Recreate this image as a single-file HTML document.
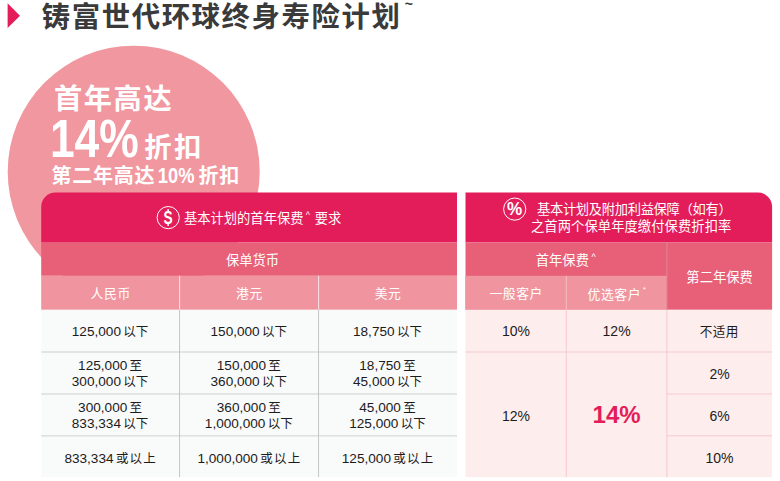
<!DOCTYPE html>
<html lang="zh-Hans">
<head>
<meta charset="utf-8">
<title>铸富世代环球终身寿险计划</title>
<style>
html,body{margin:0;padding:0;background:#fff;}
body{width:780px;height:481px;overflow:hidden;font-family:"Liberation Sans","Noto Sans CJK SC",sans-serif;}
svg{display:block;}
text{font-family:"Liberation Sans","Noto Sans CJK SC",sans-serif;white-space:pre;}
</style>
</head>
<body>
<svg width="780" height="481" viewBox="0 0 780 481" font-family="'Liberation Sans', 'Noto Sans CJK SC', sans-serif">
<path d="M7.6 3.3 L20 15.7 L7.6 28.1 Z" fill="#e31d5a"/>
<g fill="#3a3a3a"><text x="41.7" y="26.7" font-size="28.4" font-weight="bold" textLength="358.2">铸富世代环球终身寿险计划</text></g>
<g fill="#3a3a3a"><text x="404.8" y="9" font-size="14" font-weight="bold">~</text></g>
<circle cx="133.7" cy="171.7" r="126" fill="#f1979f"/>
<g fill="#fff"><text x="54" y="108.6" font-size="28.2" font-weight="bold" textLength="117.6">首年高达</text></g>
<g fill="#fff"><text x="49.9" y="156.8" font-size="53" font-weight="bold" textLength="88.9" lengthAdjust="spacingAndGlyphs">14%</text></g>
<g fill="#fff"><text x="144.3" y="157.2" font-size="27.4" font-weight="bold" textLength="57">折扣</text></g>
<g fill="#fff"><text x="51.4" y="183.3" font-size="20" font-weight="bold" textLength="103">第二年高达</text></g>
<g fill="#fff"><text x="157.8" y="183.3" font-size="21.5" font-weight="bold" textLength="36.6" lengthAdjust="spacingAndGlyphs">10%</text></g>
<g fill="#fff"><text x="198.58" y="183.3" font-size="20" font-weight="bold" textLength="40.75">折扣</text></g>
<path d="M41.2 242.5 V206.7 a14.2 14.2 0 0 1 14.2 -14.2 H457 V242.5 Z" fill="#e31d5a"/>
<rect x="41.2" y="242.5" width="415.8" height="33.3" fill="#e85f78"/>
<rect x="41.2" y="275.8" width="415.8" height="34" fill="#f0959f"/>
<rect x="41.2" y="309.8" width="415.8" height="167.4" fill="#f9fafa"/>
<rect x="41.2" y="351.2" width="415.8" height="1.6" fill="#dedfdf"/>
<rect x="41.2" y="393.2" width="415.8" height="1.6" fill="#dedfdf"/>
<rect x="41.2" y="435" width="415.8" height="1.6" fill="#dedfdf"/>
<rect x="179.1" y="275.8" width="1" height="34" fill="#fbe3e6"/>
<rect x="179.15" y="309.8" width="0.9" height="167.4" fill="#bfc0c0"/>
<rect x="318.1" y="275.8" width="1" height="34" fill="#fbe3e6"/>
<rect x="318.15" y="309.8" width="0.9" height="167.4" fill="#bfc0c0"/>
<circle cx="168.2" cy="217.6" r="11.1" fill="none" stroke="#fff" stroke-width="1"/>
<g fill="#fff"><text x="163.52" y="223.9" font-size="17.6" font-weight="bold" textLength="9.15" lengthAdjust="spacingAndGlyphs">S</text></g>
<rect x="167.3" y="209.2" width="1.6" height="2.4" fill="#fff"/>
<rect x="167.3" y="223.6" width="1.6" height="2.3" fill="#fff"/>
<g fill="#fff"><text x="183.9" y="222.6" font-size="13.3">基本计划的首年保费</text></g>
<g fill="#fff"><text x="305.8" y="217.6" font-size="9">^</text></g>
<g fill="#fff"><text x="314.66" y="222.6" font-size="13.3">要求</text></g>
<g fill="#fff"><text x="225.97" y="264.6" font-size="13.3">保单货币</text></g>
<g fill="#fff"><text x="90.6" y="297.9" font-size="12.8" textLength="39.6">人民币</text></g>
<g fill="#fff"><text x="236" y="297.9" font-size="12.8" textLength="26.2">港元</text></g>
<g fill="#fff"><text x="374.7" y="297.9" font-size="12.8" textLength="26.2">美元</text></g>
<g fill="#1d1b1b"><text x="71.82" y="335.7" font-size="13.6">125,000</text></g>
<g fill="#1d1b1b"><text x="123.28" y="335.7" font-size="12.5">以下</text></g>
<g fill="#1d1b1b"><text x="210.52" y="335.7" font-size="13.6">150,000</text></g>
<g fill="#1d1b1b"><text x="261.98" y="335.7" font-size="12.5">以下</text></g>
<g fill="#1d1b1b"><text x="353" y="335.7" font-size="13.6">18,750</text></g>
<g fill="#1d1b1b"><text x="396.9" y="335.7" font-size="12.5">以下</text></g>
<g fill="#1d1b1b"><text x="78.12" y="370.3" font-size="13.6">125,000</text></g>
<g fill="#1d1b1b"><text x="129.58" y="370.3" font-size="12.5">至</text></g>
<g fill="#1d1b1b"><text x="71.82" y="386" font-size="13.6">300,000</text></g>
<g fill="#1d1b1b"><text x="123.28" y="386" font-size="12.5">以下</text></g>
<g fill="#1d1b1b"><text x="216.82" y="370.3" font-size="13.6">150,000</text></g>
<g fill="#1d1b1b"><text x="268.28" y="370.3" font-size="12.5">至</text></g>
<g fill="#1d1b1b"><text x="210.52" y="386" font-size="13.6">360,000</text></g>
<g fill="#1d1b1b"><text x="261.98" y="386" font-size="12.5">以下</text></g>
<g fill="#1d1b1b"><text x="359.3" y="370.3" font-size="13.6">18,750</text></g>
<g fill="#1d1b1b"><text x="403.2" y="370.3" font-size="12.5">至</text></g>
<g fill="#1d1b1b"><text x="353" y="386" font-size="13.6">45,000</text></g>
<g fill="#1d1b1b"><text x="396.9" y="386" font-size="12.5">以下</text></g>
<g fill="#1d1b1b"><text x="78.12" y="411.5" font-size="13.6">300,000</text></g>
<g fill="#1d1b1b"><text x="129.58" y="411.5" font-size="12.5">至</text></g>
<g fill="#1d1b1b"><text x="71.82" y="427.5" font-size="13.6">833,334</text></g>
<g fill="#1d1b1b"><text x="123.28" y="427.5" font-size="12.5">以下</text></g>
<g fill="#1d1b1b"><text x="216.82" y="411.5" font-size="13.6">360,000</text></g>
<g fill="#1d1b1b"><text x="268.28" y="411.5" font-size="12.5">至</text></g>
<g fill="#1d1b1b"><text x="204.85" y="427.5" font-size="13.6">1,000,000</text></g>
<g fill="#1d1b1b"><text x="267.65" y="427.5" font-size="12.5">以下</text></g>
<g fill="#1d1b1b"><text x="359.3" y="411.5" font-size="13.6">45,000</text></g>
<g fill="#1d1b1b"><text x="403.2" y="411.5" font-size="12.5">至</text></g>
<g fill="#1d1b1b"><text x="349.22" y="427.5" font-size="13.6">125,000</text></g>
<g fill="#1d1b1b"><text x="400.68" y="427.5" font-size="12.5">以下</text></g>
<g fill="#1d1b1b"><text x="64.42" y="462.6" font-size="13.6">833,334</text></g>
<g fill="#1d1b1b"><text x="115.88" y="462.6" font-size="12.5" textLength="39.9">或以上</text></g>
<g fill="#1d1b1b"><text x="197.45" y="462.6" font-size="13.6">1,000,000</text></g>
<g fill="#1d1b1b"><text x="260.25" y="462.6" font-size="12.5" textLength="39.9">或以上</text></g>
<g fill="#1d1b1b"><text x="341.82" y="462.6" font-size="13.6">125,000</text></g>
<g fill="#1d1b1b"><text x="393.28" y="462.6" font-size="12.5" textLength="39.9">或以上</text></g>
<path d="M465.5 242.5 V192.5 H757.9 a14.2 14.2 0 0 1 14.2 14.2 V242.5 Z" fill="#e31d5a"/>
<rect x="465.5" y="242.5" width="306.6" height="67.3" fill="#e85f78"/>
<rect x="465.5" y="275.8" width="201.4" height="34" fill="#f0959f"/>
<rect x="465.5" y="309.8" width="306.6" height="167.4" fill="#fdeeed"/>
<rect x="565.8" y="275.8" width="1" height="34" fill="#f6bdc4"/>
<rect x="666.45" y="242.5" width="0.9" height="67.3" fill="#de8b98"/>
<rect x="465.5" y="351.5" width="306.6" height="1" fill="#f6c9d0"/>
<rect x="666.9" y="393.5" width="105.2" height="1" fill="#f6c9d0"/>
<rect x="666.9" y="435.3" width="105.2" height="1" fill="#f6c9d0"/>
<rect x="565.8" y="309.8" width="1" height="167.4" fill="#f6c9d0"/>
<rect x="666.4" y="309.8" width="1" height="167.4" fill="#f6c9d0"/>
<circle cx="514.7" cy="209.1" r="11.1" fill="none" stroke="#fff" stroke-width="1"/>
<g fill="#fff"><text x="507.08" y="215.4" font-size="17.5" font-weight="bold" textLength="15.2" lengthAdjust="spacingAndGlyphs">%</text></g>
<g fill="#fff"><text x="537" y="214.3" font-size="13.3" textLength="194.7">基本计划及附加利益保障（如有）</text></g>
<g fill="#fff"><text x="531" y="231" font-size="13.3" textLength="200.3">之首两个保单年度缴付保费折扣率</text></g>
<g fill="#fff"><text x="535.75" y="264.6" font-size="13.3">首年保费</text></g>
<g fill="#fff"><text x="591.4" y="259.6" font-size="9">^</text></g>
<g fill="#fff"><text x="686.35" y="282" font-size="13.3">第二年保费</text></g>
<g fill="#fff"><text x="489.4" y="297.9" font-size="12.8" textLength="53">一般客户</text></g>
<g fill="#fff"><text x="587.49" y="298.6" font-size="12.8" textLength="53">优选客户</text></g>
<g fill="#fff"><text x="642.99" y="291.6" font-size="7">*</text></g>
<g fill="#1d1b1b"><text x="501.89" y="335.9" font-size="14">10%</text></g>
<g fill="#1d1b1b"><text x="602.59" y="335.9" font-size="14">12%</text></g>
<g fill="#1d1b1b"><text x="699.8" y="335.7" font-size="12.6" textLength="38.6">不适用</text></g>
<g fill="#1d1b1b"><text x="501.89" y="420.9" font-size="14">12%</text></g>
<g fill="#e31d5a"><text x="592.58" y="423.4" font-size="23" font-weight="bold" textLength="48" lengthAdjust="spacingAndGlyphs">14%</text></g>
<g fill="#1d1b1b"><text x="709.38" y="379" font-size="14">2%</text></g>
<g fill="#1d1b1b"><text x="709.38" y="420.9" font-size="14">6%</text></g>
<g fill="#1d1b1b"><text x="705.49" y="462.8" font-size="14">10%</text></g>
</svg>
</body>
</html>
